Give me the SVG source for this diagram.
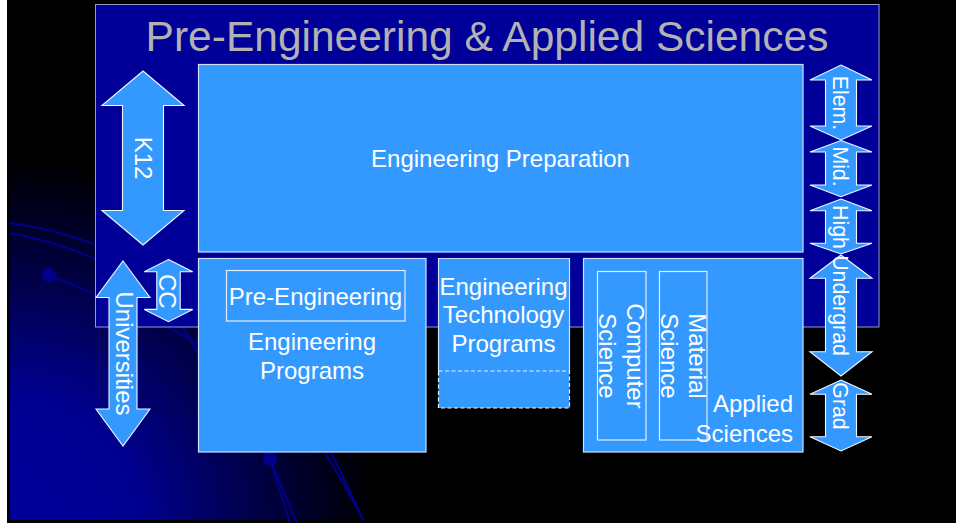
<svg xmlns="http://www.w3.org/2000/svg" width="956" height="523" viewBox="0 0 956 523">
  <defs>
    <radialGradient id="glow" gradientUnits="userSpaceOnUse" cx="10" cy="523" r="430">
      <stop offset="0" stop-color="#00009c"/>
      <stop offset="0.3" stop-color="#000090"/>
      <stop offset="0.6" stop-color="#000040"/>
      <stop offset="0.85" stop-color="#000000"/>
    </radialGradient>
  </defs>
  <style>
    .panel { fill: #000099; stroke: #9a9ac0; stroke-width: 1; }
    .box { fill: #3399ff; stroke: #cfe0ff; stroke-width: 1.2; }
    .inner { fill: none; stroke: #e4ecff; stroke-width: 1.2; }
    .dashed { fill: #3399ff; stroke: #f0f4ff; stroke-width: 1.2; stroke-dasharray: 4 2.5; }
    .arrow { fill: #3399ff; stroke: #f4f8ff; stroke-width: 1.1; stroke-linejoin: miter; }
    .deco { fill: none; stroke: #00008a; stroke-width: 2; }
    text { font-family: "Liberation Sans", Arial, sans-serif; fill: #ffffff; }
    .title { font-size: 42.5px; fill: #b2b2b2; text-anchor: middle; }
    .lbl { font-size: 24px; text-anchor: middle; }
    .lbl.end { text-anchor: end; }
    .lvl { font-size: 21.3px; text-anchor: middle; }
  </style>

  <!-- slide background -->
  <rect x="0" y="0" width="956" height="523" fill="#000000"/>
  <rect x="0" y="0" width="7" height="523" fill="#ffffff"/>
  <rect x="10" y="0" width="946" height="520" fill="url(#glow)"/>

  <!-- background swirl lines -->
  <g id="swirls">
    <path class="deco" d="M10,223 C120,238 250,300 363,520"/>
    <path class="deco" d="M10,233 C100,250 170,290 200,358 C225,400 250,440 270,459"/>
    <path class="deco" d="M49,275 C110,300 160,320 200,345 C250,380 270,420 270,459 L297,523"/>
    <path class="deco" d="M270,459 L290,523" stroke-width="1.5"/>
    <path class="deco" d="M320,430 C335,460 350,490 363,520" stroke-width="1.5"/>
    <circle cx="49" cy="275" r="7" fill="#00008c"/>
    <circle cx="270" cy="459" r="7" fill="#00008c"/>
  </g>

  <!-- main panel -->
  <g id="panel">
    <rect class="panel" x="95.5" y="4.5" width="783.5" height="322.5"/>
    <text class="title" x="487" y="51">Pre-Engineering &amp; Applied Sciences</text>
  </g>

  <g id="engineering-preparation">
    <rect class="box" x="198.5" y="64.5" width="604.5" height="187.5"/>
    <text class="lbl" x="500.5" y="167">Engineering Preparation</text>
  </g>

  <g id="engineering-programs">
    <rect class="box" x="198.5" y="258.5" width="227.5" height="193.5"/>
    <text class="lbl" x="312" y="350">Engineering</text>
    <text class="lbl" x="312" y="379">Programs</text>
  </g>

  <g id="pre-engineering">
    <rect class="inner" x="226.5" y="270.5" width="178.5" height="50.5"/>
    <text class="lbl" x="315.5" y="305">Pre-Engineering</text>
  </g>

  <g id="engineering-technology-programs">
    <path class="box" d="M438.5,371 V258.5 H569.5 V371"/>
    <rect class="dashed" x="438.5" y="371" width="131" height="37"/>
    <text class="lbl" x="503.5" y="295">Engineering</text>
    <text class="lbl" x="503.5" y="323">Technology</text>
    <text class="lbl" x="503.5" y="352">Programs</text>
  </g>

  <g id="applied-sciences">
    <rect class="box" x="583.5" y="258.5" width="219.5" height="193.5"/>
    <text class="lbl end" x="793" y="412">Applied</text>
    <text class="lbl end" x="793" y="442">Sciences</text>
  </g>

  <g id="computer-science">
    <rect class="inner" x="597.5" y="271.5" width="48.5" height="168.5"/>
    <text class="lbl" transform="translate(626.5,356) rotate(90)">Computer</text>
    <text class="lbl" transform="translate(598.5,356) rotate(90)">Science</text>
  </g>

  <g id="material-science">
    <rect class="inner" x="659.5" y="271.5" width="47.5" height="168.5"/>
    <text class="lbl" transform="translate(689,356) rotate(90)">Material</text>
    <text class="lbl" transform="translate(660.5,356) rotate(90)">Science</text>
  </g>

  <!-- level ranges: double-headed arrows -->
  <g id="ranges">
    <g id="k12">
      <polygon class="arrow" points="143,71 184,105.5 163.5,105.5 163.5,210.5 184,210.5 143,245 102,210.5 122.5,210.5 122.5,105.5 102,105.5"/>
      <text class="lbl" transform="translate(135,158) rotate(90)">K12</text>
    </g>
    <g id="universities">
      <polygon class="arrow" points="123,261 150,297.5 137,297.5 137,409 150,409 123,446 96,409 109,409 109,297.5 96,297.5"/>
      <text class="lbl" transform="translate(116,353.5) rotate(90)">Universities</text>
    </g>
    <g id="cc">
      <polygon class="arrow" points="168.5,259.5 192.7,271.8 180.2,271.8 180.2,309.4 192.7,309.4 168.5,321.7 144.3,309.4 156.8,309.4 156.8,271.8 144.3,271.8"/>
      <text class="lbl" transform="translate(159,291.3) rotate(90)">CC</text>
    </g>
    <g id="elem">
      <polygon class="arrow" points="841,65 872,80 856.5,80 856.5,126 872,126 841,140 810,126 825.5,126 825.5,80 810,80"/>
      <text class="lvl" transform="translate(833,103) rotate(90)">Elem.</text>
    </g>
    <g id="mid">
      <polygon class="arrow" points="841,140.5 872,152 856.5,152 856.5,185 872,185 841,196.7 810,185 825.5,185 825.5,152 810,152"/>
      <text class="lvl" transform="translate(833,166.5) rotate(90)">Mid.</text>
    </g>
    <g id="high">
      <polygon class="arrow" points="841,199 872,210.7 856.5,210.7 856.5,243.3 872,243.3 841,254 810,243.3 825.5,243.3 825.5,210.7 810,210.7"/>
      <text class="lvl" transform="translate(833,227) rotate(90)">High</text>
    </g>
    <g id="undergrad">
      <polygon class="arrow" points="841,255 872,278.3 856.5,278.3 856.5,351.7 872,351.7 841,376 810,351.7 825.5,351.7 825.5,278.3 810,278.3"/>
      <text class="lvl" transform="translate(833,305.5) rotate(90)">Undergrad</text>
    </g>
    <g id="grad">
      <polygon class="arrow" points="841,380 872,394.3 856.5,394.3 856.5,436.7 872,436.7 841,451 810,436.7 825.5,436.7 825.5,394.3 810,394.3"/>
      <text class="lvl" transform="translate(833,406) rotate(90)">Grad</text>
    </g>
  </g>
</svg>
